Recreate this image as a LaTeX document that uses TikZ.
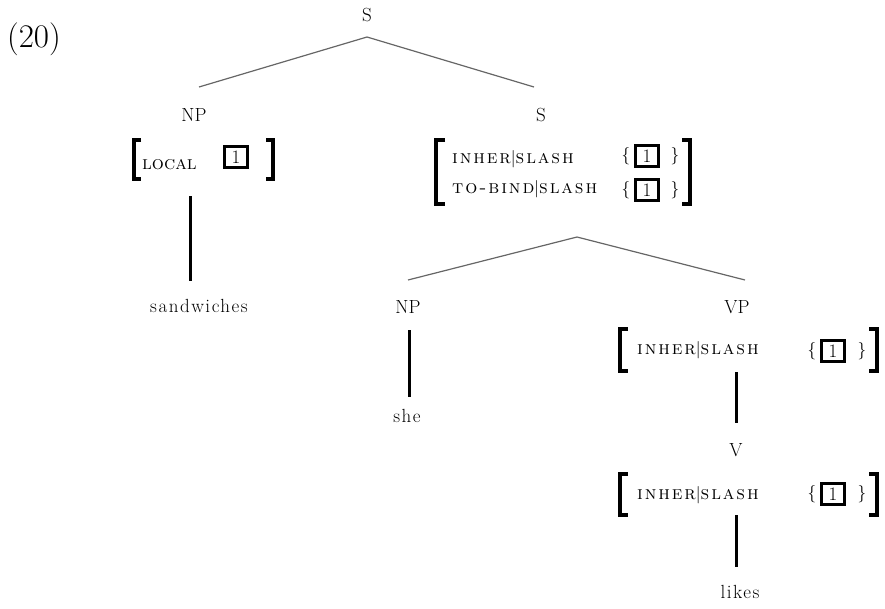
\documentclass[tikz,border=0pt]{standalone}
\usepackage{fontspec}
\setmainfont{Latin Modern Roman}
\newfontfamily\featfont[LetterSpace=10]{lmromancaps10-regular.otf}
\newfontfamily\localfont{lmromancaps10-regular.otf}
\begin{document}
\begin{tikzpicture}[x=1pt,y=-1pt,
  every node/.style={inner sep=0pt, font=\fontsize{19}{23}\selectfont},
  cat/.style={anchor=center},
  word/.style={anchor=center, font=\fontsize{19}{23}\selectfont\addfontfeatures{LetterSpace=8}},
  feat/.style={anchor=base west, font=\featfont\fontsize{19}{23}\selectfont},
  localfeat/.style={anchor=base west, font=\localfont\fontsize{19}{23}\selectfont},
  tag/.style={draw, line width=3pt, minimum width=23pt, minimum height=21pt},
  brace/.style={anchor=center},
  bracket/.style={line width=3.5pt, line join=miter},
  branch/.style={line width=1.2pt, black!60},
  stem/.style={line width=3pt}]
\useasboundingbox (0,0) rectangle (885,608);

% example number
\node[font=\fontsize{33}{38}\selectfont] (ex) at (34,39) {(20)};

% categories
\node[cat] (s0)  at (367,15)  {S};
\node[cat] (np1) at (194,115) {NP};
\node[cat] (s1)  at (541,115) {S};
\node[cat] (np2) at (408,307) {NP};
\node[cat] (vp)  at (737,307) {VP};
\node[cat] (v)   at (736,450) {V};

% words
\node[word] (w1) at (199,306) {sandwiches};
\node[word] (w2) at (407,416) {she};
\node[word] (w3) at (740,592) {likes};

% branching points
\coordinate (s0-top)  at (367,37);
\coordinate (s0-l)    at (199,87);
\coordinate (s0-r)    at (534,87);
\coordinate (s1-top)  at (577,237);
\coordinate (s1-l)    at (408,280);
\coordinate (s1-r)    at (745,280);
\draw[branch] (s0-l) -- (s0-top) -- (s0-r);
\draw[branch] (s1-l) -- (s1-top) -- (s1-r);

% NP: [LOCAL 1]
\draw[bracket] (141,140) -- (134,140) -- (134,179) -- (141,179);
\draw[bracket] (266,140) -- (273,140) -- (273,179) -- (266,179);
\node[localfeat] (loc) at (142,169) {local};
\node[tag] (t0) at (236,157) {1};

% S: [INHER|SLASH {1}, TO-BIND|SLASH {1}]
\draw[bracket] (445,140) -- (436,140) -- (436,204) -- (445,204);
\draw[bracket] (682,140) -- (690,140) -- (690,204) -- (682,204);
\node[feat] (f1) at (452,163) {inher$|$slash};
\node[feat] (f2) at (452,193) {to-bind$|$slash};
\node[brace] (b1l) at (626,156) {$\big\{$};
\node[tag]   (t1)  at (647,156) {1};
\node[brace] (b1r) at (675,156) {$\big\}$};
\node[brace] (b2l) at (626,190) {$\big\{$};
\node[tag]   (t2)  at (647,190) {1};
\node[brace] (b2r) at (675,190) {$\big\}$};

% VP: [INHER|SLASH {1}]
\draw[bracket] (628,329) -- (620,329) -- (620,371) -- (628,371);
\draw[bracket] (869,329) -- (877,329) -- (877,371) -- (869,371);
\node[feat] (f3) at (637,354) {inher$|$slash};
\node[brace] (b3l) at (812,351) {$\big\{$};
\node[tag]   (t3)  at (833,351) {1};
\node[brace] (b3r) at (862,351) {$\big\}$};

% V: [INHER|SLASH {1}]
\draw[bracket] (628,474) -- (620,474) -- (620,515) -- (628,515);
\draw[bracket] (869,474) -- (877,474) -- (877,515) -- (869,515);
\node[feat] (f4) at (637,499) {inher$|$slash};
\node[brace] (b4l) at (812,494) {$\big\{$};
\node[tag]   (t4)  at (833,494) {1};
\node[brace] (b4r) at (862,494) {$\big\}$};

% unary stems
\coordinate (np1-b) at (190,196);
\coordinate (w1-t)  at (190,281);
\coordinate (np2-b) at (409,330);
\coordinate (w2-t)  at (409,397);
\coordinate (vp-b)  at (736,372);
\coordinate (v-t)   at (736,423);
\coordinate (v-b)   at (736,515);
\coordinate (w3-t)  at (736,567);
\draw[stem] (np1-b) -- (w1-t);
\draw[stem] (np2-b) -- (w2-t);
\draw[stem] (vp-b) -- (v-t);
\draw[stem] (v-b) -- (w3-t);
\end{tikzpicture}
\end{document}
